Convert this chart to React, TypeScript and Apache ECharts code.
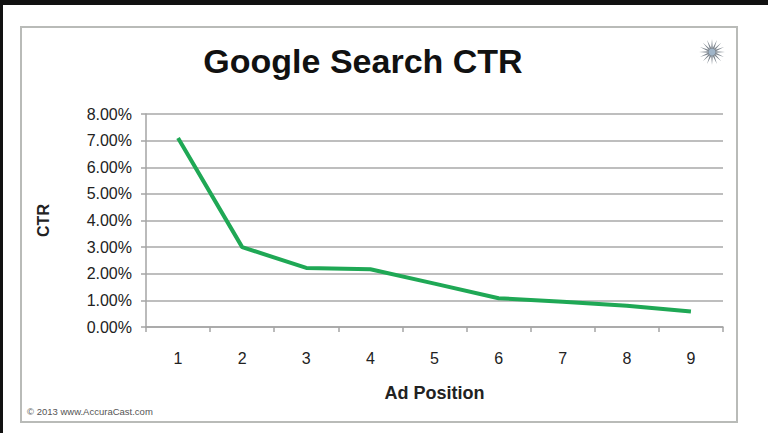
import React, { useEffect, useRef } from "react";
import * as echarts from "echarts";

const categories = ["1", "2", "3", "4", "5", "6", "7", "8", "9"];
const ctrValues = [7.1, 3.0, 2.22, 2.17, 1.63, 1.08, 0.95, 0.8, 0.58];
const titleText = "Google Search CTR";
const xAxisName = "Ad Position";
const yAxisName = "CTR";
const footerText = "© 2013 www.AccuraCast.com";

function starPoints(cx: number, cy: number, rOut: number, rIn: number, n: number) {
  const pts: number[][] = [];
  for (let i = 0; i < n * 2; i++) {
    const r = i % 2 === 0 ? rOut : rIn;
    const a = (Math.PI * i) / n - Math.PI / 2;
    pts.push([cx + r * Math.cos(a), cy + r * Math.sin(a)]);
  }
  return pts;
}

export default function App() {
  const ref = useRef<HTMLDivElement>(null);
  useEffect(() => {
    if (!ref.current) return;
    const chart = echarts.init(ref.current, undefined, { renderer: "svg" });
    const font = "'Liberation Sans', Arial, Helvetica, sans-serif";
    chart.setOption({
      animation: false,
      backgroundColor: "#ffffff",
      textStyle: { fontFamily: font },
      title: {
        text: titleText,
        left: 358,
        textAlign: "center",
        top: 39,
        textStyle: { fontSize: 34, fontWeight: "bold", color: "#111111", fontFamily: font },
      },
      graphic: [
        { type: "rect", shape: { x: 0, y: 0, width: 768, height: 5 }, style: { fill: "#111111" } },
        { type: "rect", shape: { x: 0, y: 0, width: 3, height: 433 }, style: { fill: "#111111" } },
        {
          type: "rect",
          shape: { x: 21, y: 27, width: 716, height: 395 },
          style: { fill: "none", stroke: "#b9bbb8", lineWidth: 2 },
          z: -1,
        },
        {
          type: "polygon",
          shape: { points: starPoints(712, 52, 13, 4, 16) },
          style: { fill: "#7d858e" },
        },
        { type: "circle", shape: { cx: 712, cy: 52, r: 3.5 }, style: { fill: "#9fb4c8" } },
        {
          type: "text",
          x: 27,
          y: 406,
          style: { text: footerText, fontSize: 9.5, fill: "#555555", fontFamily: font },
        },
      ],
      grid: { left: 146, top: 114, width: 577, height: 213, containLabel: false },
      xAxis: {
        type: "category",
        data: categories,
        boundaryGap: true,
        name: xAxisName,
        nameLocation: "middle",
        nameGap: 57,
        nameTextStyle: { fontSize: 18, fontWeight: "bold", color: "#222222", fontFamily: font },
        axisLine: { show: true, lineStyle: { color: "#a5a5a5", width: 1.5 } },
        axisTick: { show: true, length: 5, interval: 0, lineStyle: { color: "#a5a5a5", width: 1.5 } },
        axisLabel: { fontSize: 16, color: "#222222", margin: 23, fontFamily: font },
        splitLine: { show: false },
      },
      yAxis: {
        type: "value",
        min: 0,
        max: 8,
        interval: 1,
        name: yAxisName,
        nameLocation: "middle",
        nameGap: 95,
        nameRotate: 90,
        nameTextStyle: { fontSize: 16, fontWeight: "bold", color: "#222222", fontFamily: font },
        axisLine: { show: true, lineStyle: { color: "#a5a5a5", width: 1.5 } },
        axisTick: { show: true, length: 5, lineStyle: { color: "#a5a5a5", width: 1.5 } },
        axisLabel: {
          fontSize: 16,
          color: "#222222",
          margin: 14,
          fontFamily: font,
          formatter: (v: number) => v.toFixed(2) + "%",
        },
        splitLine: { show: true, lineStyle: { color: "#a9a9a9", width: 1.5 } },
      },
      series: [
        {
          type: "line",
          data: ctrValues,
          symbol: "none",
          lineStyle: { color: "#1fa855", width: 4 },
          itemStyle: { color: "#1fa855" },
        },
      ],
    });
    return () => chart.dispose();
  }, []);
  return (
    <div
      ref={ref}
      style={{ position: "fixed", left: 0, top: 0, width: 768, height: 433, background: "#fff" }}
    />
  );
}
